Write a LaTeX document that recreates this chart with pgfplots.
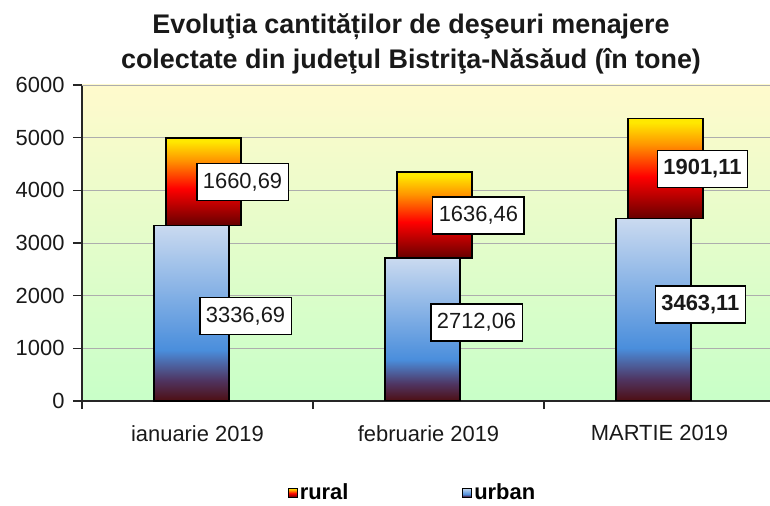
\documentclass[border=0pt]{standalone}
\usepackage{pgfplots}
\pgfplotsset{compat=1.18}
\usepackage{fontspec}
\setmainfont{Liberation Sans}
\definecolor{ub0}{HTML}{4E0E12}
\definecolor{ub1}{HTML}{4F3562}
\definecolor{ub2}{HTML}{4A8EDC}
\definecolor{ub3}{HTML}{CADAF0}
\definecolor{rb0}{HTML}{660000}
\definecolor{rb1}{HTML}{FF0000}
\definecolor{rb2}{HTML}{FF9400}
\definecolor{rb3}{HTML}{FFE800}
\definecolor{bgtop}{HTML}{FFFACC}
\definecolor{bgbot}{HTML}{C8FFC8}
\pgfdeclareverticalshading{urbanshade}{100bp}{color(0bp)=(ub0); color(25bp)=(ub0); color(31bp)=(ub1); color(39.5bp)=(ub2); color(75bp)=(ub3); color(100bp)=(ub3)}
\pgfdeclareverticalshading{ruralshade}{100bp}{color(0bp)=(rb0); color(25bp)=(rb0); color(46bp)=(rb1); color(62bp)=(rb2); color(73bp)=(rb3); color(100bp)=(rb3)}
\pgfplotsset{
  frame/.style={at={(0,0)}, anchor=south west,
    scale only axis, width=693bp, height=316bp,
    xmin=-0.5, xmax=2.5, ymin=0, ymax=6000,
    ybar stacked, bar width=75bp},
  urb/.style={draw=black, line width=1.4bp, shading=urbanshade, bar shift=-6bp},
  rur/.style={draw=black, line width=1.4bp, shading=ruralshade, bar shift=6bp},
}
\begin{document}
\begin{tikzpicture}
\path[use as bounding box] (-82bp,-105bp) rectangle (688bp,401bp);
% month 1, with the axis frame, grid, ticks and legend
\begin{axis}[
  frame,
  axis lines=left, axis line style={-, black!85, line width=1.2bp},
  xtick={0,1,2}, xticklabels={ianuarie 2019, februarie 2019, MARTIE 2019},
  minor xtick={-0.5,0.5,1.5,2.5},
  major x tick style={draw=none},
  minor x tick style={black!85, line width=1.2bp},
  minor tick length=8bp,
  ytick={0,1000,...,5000},
  extra y ticks={6000},
  extra y tick style={grid style={black!45, line width=2.2bp}},
  major tick length=9bp,
  tick align=outside,
  y tick style={black!85, line width=1.2bp},
  ymajorgrids, y grid style={black!32, line width=0.9bp},
  ticklabel style={font=\fontsize{22}{26}\selectfont, text=black!90},
  /pgf/number format/assume math mode=true,
  y tick label style={/pgf/number format/1000 sep={}, xshift=-5bp},
  scaled y ticks=false,
  xticklabel style={yshift=-12bp},
  axis background/.style={top color=bgtop, bottom color=bgbot},
  legend columns=2, reverse legend,
  legend style={at={(0.477,-0.29)}, anchor=center, draw=none, fill=none,
    font=\bfseries\fontsize{22}{26}\selectfont,
    /tikz/every even column/.append style={column sep=112bp}},
  legend image code/.code={\draw[#1, line width=0.8bp] (-1bp,-4.5bp) rectangle (8bp,4.5bp);},
]
\addplot[urb] coordinates {(0,3336.69)};
\addlegendentry{urban}
\addplot[rur] coordinates {(0,1660.69)};
\addlegendentry{rural}
\coordinate (r1) at (axis cs:0.195,4158);
\coordinate (u1) at (axis cs:0.208,1614);
\coordinate (r2) at (axis cs:1.216,3522);
\coordinate (u2) at (axis cs:1.208,1490);
\coordinate (r3) at (axis cs:2.186,4405);
\coordinate (u3) at (axis cs:2.177,1832);
\end{axis}
% month 2
\begin{axis}[frame, hide axis]
\addplot[urb] coordinates {(1,2712.06)};
\addplot[rur] coordinates {(1,1636.46)};
\end{axis}
% month 3
\begin{axis}[frame, hide axis]
\addplot[urb] coordinates {(2,3463.11)};
\addplot[rur] coordinates {(2,1901.11)};
\end{axis}
\tikzset{lbl/.style={draw=black, line width=1.3bp, fill=white, font=\fontsize{22}{26}\selectfont, minimum height=37bp, inner xsep=6bp, text=black!90}}
\node[lbl] at (r1) {1660,69};
\node[lbl] at (u1) {3336,69};
\node[lbl] at (r2) {1636,46};
\node[lbl] at (u2) {2712,06};
\node[lbl, font=\bfseries\fontsize{22}{26}\selectfont] at (r3) {1901,11};
\node[lbl, font=\bfseries\fontsize{22}{26}\selectfont] at (u3) {3463,11};
\node[align=center, font=\bfseries\fontsize{27}{35}\selectfont, text=black!90] at (329bp,357bp)
  {Evoluţia cantităților de deşeuri menajere\\colectate din judeţul Bistriţa-Năsăud (în tone)};
\end{tikzpicture}
\end{document}
